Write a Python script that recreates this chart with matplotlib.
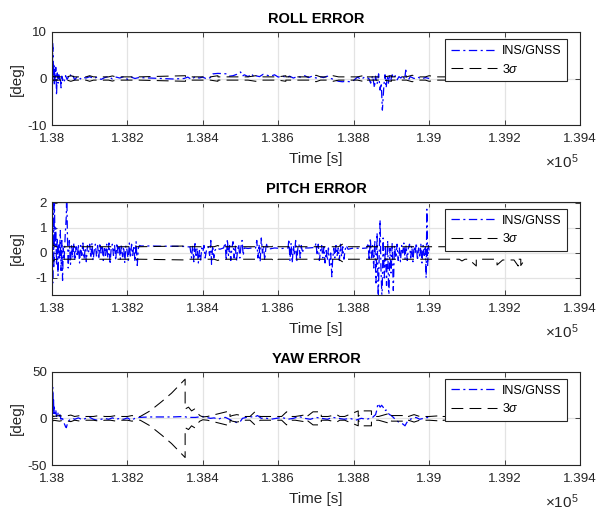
import matplotlib
matplotlib.use('Agg')
import matplotlib.pyplot as plt
from matplotlib.ticker import FuncFormatter, FixedLocator

plt.rcParams['font.family'] = ['Liberation Sans', 'DejaVu Sans']
plt.rcParams['mathtext.fontset'] = 'custom'
plt.rcParams['mathtext.rm'] = 'Liberation Sans'
plt.rcParams['mathtext.it'] = 'Liberation Sans:italic'
plt.rcParams['lines.scale_dashes'] = False
plt.rcParams['axes.unicode_minus'] = False

# ---------------- data (time offset [s] from T0, value [deg]) ----------------
T0 = 138000
x_ticks = [138000, 138200, 138400, 138600, 138800, 139000, 139200, 139400]
titles = ['ROLL ERROR', 'PITCH ERROR', 'YAW ERROR']
legend_labels = ['INS/GNSS', '3$\\sigma$']

roll_ins = [(0, 0), (1, 2.5), (2, 7.5), (3, 5.8), (4, 0.5), (5, 3.2), (6, -1.5), (7, 2.0), (8, -0.5),
            (10, 2.4), (11, 0.3), (12, -3.6), (13, -0.8), (14, 1.2), (16, -1.0), (18, 0.8), (20, -0.6),
            (22, 0.3), (24, -2.0), (26, 0.5), (28, -0.4), (30, 0.2), (33, -0.5), (36, 0.6), (40, -0.2),
            (44, 0.4), (48, 1.0), (52, 0.1), (56, 0.5), (60, -0.3), (65, 0.2), (70, 0.4), (75, -0.1),
            (80, 0.3), (90, 0.1), (100, 0.4), (110, 0.0), (120, 0.3), (130, -0.2), (140, 0.2), (150, 0.4),
            (160, -0.1), (170, 0.3), (180, 0.1), (190, 0.4), (200, -0.2), (210, 0.3), (220, 0.0), (230, 0.2),
            (260, 0.1), (290, 0.0), (320, -0.1), (350, 0.0), (360, 0.3), (370, -0.2), (380, 0.4), (390, 0.1),
            (400, 0.3), (410, -0.1), (420, 0.2), (427, 1.0), (440, 1.1), (464, 1.0), (470, 0.5), (480, 0.6),
            (490, 0.9), (500, 1.4), (505, 0.5), (510, 0.8), (520, 0.4), (530, 1.0), (535, 0.3), (540, 0.6),
            (550, 0.4), (560, 0.9), (570, 0.7), (580, 0.5), (590, 0.8), (600, 0.3), (610, 0.6), (620, 0.2),
            (630, 0.5), (640, 0.1), (650, 0.4), (660, 0.3), (670, 0.6), (680, 0.2), (690, 0.5), (700, 0.1),
            (710, 0.4), (720, 0.2), (730, 0.5), (740, 0.0), (750, -0.3), (760, -0.6), (770, -0.7), (780, -0.6),
            (790, -0.7), (800, -0.4), (810, 0.3), (820, -0.2), (830, 0.4), (840, 0.0), (845, -1.0), (850, 0.6),
            (855, -2.0), (858, 0.5), (862, -1.2), (866, 1.0), (870, -2.5), (873, -1.0), (876, -6.8), (878, -4.0),
            (880, -1.5), (883, 0.8), (886, -2.0), (889, 0.5), (892, -1.0), (895, 1.0), (898, -0.5), (902, 0.8),
            (906, 0.0), (910, 0.6), (915, -0.3), (920, 0.4), (925, 0.1), (930, 0.7), (935, -0.2), (938, 1.8),
            (940, 0.3), (945, -0.3), (950, 0.4), (960, 0.0), (970, 0.3), (980, -0.1), (990, 0.2), (1000, 0.0)]

roll_sigma = [(0, 1.2), (2, 0.6), (5, 0.35), (40, 0.35), (50, 0.6), (60, 0.35), (90, 0.35), (100, 0.6),
              (110, 0.35), (150, 0.35), (160, 0.55), (170, 0.35), (230, 0.35), (354, 0.6), (354, 0.35),
              (420, 0.35), (440, 0.6), (440, 0.35), (520, 0.35), (540, 0.6), (560, 0.35), (600, 0.35),
              (620, 0.6), (620, 0.35), (690, 0.35), (700, 0.7), (712, 0.35), (730, 0.35), (745, 0.6),
              (760, 0.35), (810, 0.35), (830, 0.7), (830, 0.35), (880, 0.35), (900, 0.6), (900, 0.35),
              (940, 0.35), (955, 0.7), (970, 0.35), (990, 0.35), (1000, 0.6), (1020, 0.35), (1250, 0.35)]

pitch_ins = [(0, 0.0), (1, 1.4), (2, -1.2), (3, 2.6), (4, 0.8), (5, -0.6), (6, 2.6), (8, 0.3), (10, 1.0),
             (12, -0.5), (14, 0.6), (16, -0.9), (18, 0.4), (20, -0.2), (22, 0.9), (24, -0.7), (26, 0.5),
             (28, -1.1), (30, 0.2), (32, -0.3), (35, 0.7), (38, 1.5), (39, 2.6), (41, 0.6), (43, -0.6),
             (46, 0.5), (49, -0.45), (52, 0.35), (55, -0.2), (58, 0.4), (61, -0.3), (64, 0.25), (67, -0.15),
             (70, 0.35), (73, -0.4), (76, 0.3), (79, -0.1), (82, 0.4), (85, -0.25), (88, 0.2), (91, -0.35),
             (94, 0.3), (97, 0.05), (100, 0.35), (103, -0.2), (106, 0.4), (109, -0.3), (112, 0.1), (115, 0.35),
             (118, -0.15), (121, 0.3), (124, -0.25), (127, 0.4), (130, 0.0), (133, 0.3), (136, -0.3),
             (139, 0.25), (142, -0.1), (145, 0.35), (148, -0.2), (151, 0.4), (154, -0.45), (157, 0.2),
             (160, 0.35), (163, -0.1), (166, 0.3), (169, -0.3), (172, 0.4), (175, 0.0), (178, 0.3),
             (181, -0.25), (184, 0.35), (187, -0.15), (190, 0.25), (193, -0.4), (196, 0.3), (199, 0.1),
             (202, -0.3), (205, 0.4), (208, -0.2), (211, 0.35), (214, -0.1), (217, 0.3), (220, -0.35),
             (223, 0.45), (226, -0.5), (229, 0.2), (232, 0.3), (236, 0.28), (260, 0.28), (290, 0.27),
             (320, 0.27), (350, 0.26), (366, 0.24), (370, -0.2), (373, 0.3), (376, -0.35), (379, 0.45),
             (382, -0.1), (385, 0.2), (388, -0.4), (391, 0.1), (394, -0.3), (397, 0.2), (400, 0.05),
             (403, 0.3), (406, -0.2), (410, 0.15), (414, 0.25), (418, -0.1), (421, 0.5), (423, -0.45),
             (426, 0.3), (429, -0.2), (432, 0.1), (436, 0.2), (445, 0.15), (455, 0.2), (459, 0.4),
             (462, -0.3), (465, 0.55), (468, -0.1), (471, 0.3), (474, -0.3), (477, 0.2), (480, 0.45),
             (483, -0.2), (486, 0.3), (489, -0.35), (492, 0.1), (495, 0.35), (498, -0.2), (501, 0.25),
             (504, 0.5), (507, -0.1), (510, 0.2), (520, 0.18), (530, 0.2), (540, 0.2), (543, 0.5),
             (546, -0.2), (549, 0.35), (552, -0.35), (555, 0.6), (558, 0.0), (561, 0.3), (564, -0.3),
             (567, 0.2), (570, 0.4), (573, 0.15), (590, 0.2), (610, 0.18), (626, 0.2), (628, 0.55),
             (631, -0.3), (634, 0.4), (637, -0.4), (640, 0.3), (643, -0.1), (646, 0.5), (649, -0.35),
             (652, 0.2), (655, 0.35), (658, -0.2), (661, 0.3), (664, 0.0), (667, 0.2), (680, 0.2),
             (697, 0.22), (700, 0.4), (703, -0.1), (706, 0.35), (709, -0.3), (712, 0.1), (715, 0.3),
             (718, -0.2), (721, 0.25), (724, -0.4), (727, 0.1), (730, -0.3), (733, 0.2), (736, -0.5),
             (739, 0.0), (742, -0.95), (744, -0.3), (747, 0.2), (750, -0.2), (753, 0.3), (756, -0.1),
             (759, 0.2), (762, -0.3), (765, 0.35), (768, -0.15), (771, 0.25), (774, -0.25), (777, 0.1),
             (780, 0.3), (785, 0.15), (800, 0.2), (820, 0.18), (835, 0.2), (838, 0.4), (841, -0.3),
             (844, 0.6), (847, -0.2), (850, 0.3), (853, -0.6), (856, 0.5), (859, -1.2), (862, 0.8),
             (865, -1.9), (868, 0.2), (870, 1.32), (872, -0.5), (875, -1.9), (878, 0.6), (881, -1.0),
             (884, 0.3), (887, -1.3), (890, 0.5), (893, -1.9), (896, 0.2), (899, -0.8), (902, 0.4),
             (905, -1.5), (908, 0.3), (912, -0.2), (915, 0.35), (918, -0.3), (921, 0.2), (924, -0.35),
             (927, 0.3), (930, 0.0), (933, 0.4), (936, -0.25), (939, 0.3), (942, -0.3), (945, 0.2),
             (948, 0.35), (951, -0.2), (954, 0.3), (957, -0.35), (960, 0.25), (963, 0.0), (966, 0.4),
             (969, -0.3), (972, 0.2), (975, -0.2), (978, 0.35), (981, -0.4), (984, 0.3), (987, -0.1),
             (990, 0.3), (992, -1.0), (994, 1.75), (996, -0.5), (998, 0.3), (1000, 0.1)]

pitch_sigma = [(0, 0.6), (3, 0.3), (10, 0.25), (233, 0.25), (360, 0.28), (366, 0.25), (430, 0.25),
               (440, 0.3), (445, 0.25), (583, 0.25), (592, 0.35), (600, 0.25), (760, 0.25), (770, 0.35),
               (777, 0.25), (1080, 0.25), (1087, 0.32), (1095, 0.25), (1105, 0.25), (1125, 0.52),
               (1125, 0.25), (1180, 0.25), (1180, 0.48), (1195, 0.28), (1225, 0.28), (1236, 0.52),
               (1236, 0.25), (1243, 0.25), (1243, 0.5), (1252, 0.3)]

yaw_ins = [(0, 0), (1, 15), (2, 33), (3, 8), (4, 22), (5, 3), (6, 12), (8, 5), (10, 9), (12, 2), (15, 7),
           (18, 1), (21, 4), (24, -1), (27, 2), (30, -4), (33, -6), (36, -9), (38, -10), (40, -7), (43, -4),
           (46, -2), (50, -1), (55, 0), (60, -1), (70, 0.5), (80, -1.5), (90, 0), (100, 1), (110, -1),
           (120, -2), (130, -1), (140, 0), (150, -1), (160, 0.5), (170, -1), (180, 0), (190, -1), (200, 0.5),
           (210, -2), (220, 0), (230, 1), (260, 1.5), (290, 1.5), (320, 1.5), (350, 2), (360, 1), (380, 1),
           (400, 2), (410, 1), (420, 0), (430, 0.5), (440, -1), (450, 0.5), (460, 1), (470, -1), (480, -3),
           (490, -4.5), (500, -3), (505, 0), (515, 1), (525, 2), (535, 1), (545, 3), (555, 0), (565, 0.5),
           (580, -1), (595, 0), (610, 1), (625, -1), (640, 0), (655, 2), (670, 0), (685, -1), (700, 1),
           (715, 0), (730, -1), (745, 1), (760, 0), (775, -1), (790, 0), (805, -2), (820, 0), (835, -1),
           (850, 1), (858, 4), (862, 10), (864, 16), (867, 14), (870, 12), (874, 14), (878, 12), (882, 8),
           (886, 9), (890, 6), (895, 4), (900, 3), (905, 1), (910, -1), (915, -3), (920, -4), (925, -5),
           (930, -6), (936, -8), (940, -5), (945, -2), (950, -1), (955, 0), (965, 1), (975, -1), (985, 0),
           (995, 1), (1000, 0)]

yaw_sigma = [(0, 5), (3, 2), (20, 3), (30, 2), (50, 3.5), (60, 2), (75, 3), (90, 2), (110, 2), (125, 3),
             (140, 2), (155, 2), (170, 3), (185, 2), (200, 2), (212, 3), (225, 2), (234, 2), (260, 8),
             (291, 18), (317, 27), (353, 42), (353, 10), (362, 12), (370, 8), (378, 10), (385, 6), (392, 3),
             (400, 1.5), (412, 2), (472, 8), (472, 2), (478, 3), (490, 4), (502, 3), (505, 2), (525, 2),
             (538, 7), (552, 2), (565, 2), (592, 2), (609, 2), (622, 7), (636, 2), (645, 2), (676, 4),
             (676, 2), (692, 7), (714, 7), (714, 2), (732, 2), (755, 4), (763, 2), (776, 2), (812, 8),
             (812, 2), (825, 8), (847, 8), (847, 2), (866, 2), (892, 5), (892, 2), (901, 3), (936, 3),
             (936, 2), (945, 2), (960, 4), (975, 2), (1000, 2), (1037, 3), (1037, 2), (1100, 2),
             (1161, 3), (1161, 2), (1241, 2.5), (1250, 2)]

ylims = [(-10, 10), (-1.68, 2.05), (-50, 50)]
yticks = [[-10, 0, 10], [-1, 0, 1, 2], [-50, 0, 50]]

# ---------------- figure ----------------
W, H = 598, 514
fig = plt.figure(figsize=(W / 100, H / 100), dpi=100)
axes_px = [(52, 32, 528, 93), (52, 201.7, 528, 93.3), (52, 371.7, 528, 93.3)]

dark = '#262626'
series = [(roll_ins, roll_sigma), (pitch_ins, pitch_sigma), (yaw_ins, yaw_sigma)]

for i, (x0, y0, w, h) in enumerate(axes_px):
    ax = fig.add_axes([x0 / W, 1 - (y0 + h) / H, w / W, h / H])
    ins, sig = series[i]
    t_i = [T0 + p[0] for p in ins]
    v_i = [p[1] for p in ins]
    t_s = [T0 + p[0] for p in sig]
    s_up = [p[1] for p in sig]
    s_dn = [-p[1] for p in sig]
    ax.plot(t_i, v_i, color='#0000ff', lw=0.9, dashes=(6, 2.5, 1.5, 2.5), label=legend_labels[0])
    ax.plot(t_s, s_up, color='k', lw=0.75, dashes=(8.5, 4.5), label=legend_labels[1])
    ax.plot(t_s, s_dn, color='k', lw=0.75, dashes=(8.5, 4.5))

    ax.set_xlim(x_ticks[0], x_ticks[-1])
    ax.set_ylim(*ylims[i])
    ax.xaxis.set_major_locator(FixedLocator(x_ticks))
    ax.xaxis.set_major_formatter(FuncFormatter(lambda v, p: '%g' % (v / 1e5)))
    ax.set_yticks(yticks[i])
    ax.grid(True, color='#e3e3e3', lw=0.9)
    ax.set_axisbelow(True)
    for sp in ax.spines.values():
        sp.set_color(dark)
        sp.set_linewidth(0.8)
    ax.tick_params(axis='both', direction='in', top=True, right=True, length=3.5, width=0.6,
                   labelsize=9.6, colors=dark)
    ax.tick_params(axis='x', pad=5.5)
    ax.tick_params(axis='y', pad=3.5)

    ax.set_title(titles[i], fontsize=10.5, fontweight='bold', pad=6.3, color='k')
    ax.set_xlabel('Time [s]', fontsize=11, color=dark)
    ax.xaxis.set_label_coords(0.5, -0.29)
    ax.set_ylabel('[deg]', fontsize=11, color=dark)
    ax.yaxis.set_label_coords(-0.053, 0.5)
    ax.text(0.998, -0.46, r'$\times10^{5}$', transform=ax.transAxes, ha='right',
            va='baseline', fontsize=11, color=dark)

    leg = ax.legend(loc='upper right', bbox_to_anchor=(0.9754, 0.922), borderaxespad=0,
                    fontsize=9, handlelength=3.7, handletextpad=0.4, labelspacing=0.45,
                    borderpad=0.45, fancybox=False, framealpha=1, edgecolor=dark)
    leg.get_frame().set_linewidth(0.8)

fig.savefig('out.png', dpi=100)
